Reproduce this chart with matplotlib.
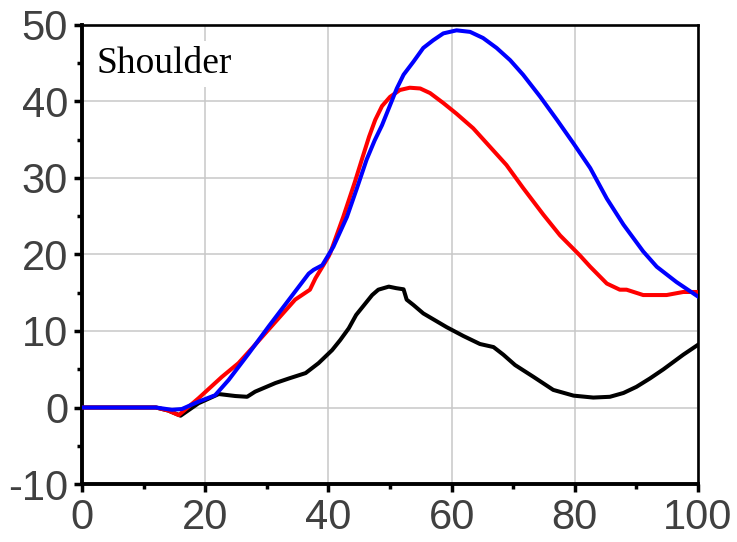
import matplotlib
matplotlib.use("Agg")
import matplotlib.pyplot as plt
from matplotlib.ticker import MultipleLocator

plt.rcParams["axes.unicode_minus"] = False

# ---- data ----
black_x = [0, 4, 8, 12, 14, 16, 18.9, 22.2, 24.9, 26.8, 28.1, 31.4, 33.6, 36.3, 38.4, 40.6,
           41.9, 43.3, 44.5, 46.0, 47.1, 48.1, 49.8, 51.0, 52.2, 52.7, 53.8, 55.4, 57.3,
           59.2, 61.9, 64.6, 66.8, 68.4, 70.3, 73.3, 76.5, 79.8, 83.0, 85.7, 87.9, 90.0,
           92.2, 94.4, 97.6, 100]
black_y = [0, 0, 0, 0, -0.4, -1.07, 0.55, 1.76, 1.5, 1.4, 2.07, 3.2, 3.8, 4.5, 5.8, 7.5,
           8.8, 10.35, 12.1, 13.6, 14.7, 15.4, 15.8, 15.6, 15.45, 14.1, 13.4, 12.3, 11.4,
           10.5, 9.35, 8.3, 7.9, 6.9, 5.55, 4.0, 2.3, 1.55, 1.3, 1.4, 1.9, 2.7,
           3.8, 5.0, 6.9, 8.2]

red_x = [0, 4, 8, 12, 14, 15.7, 18.9, 22.7, 25.4, 28.1, 31.4, 34.6, 37.0, 37.9, 40.0, 40.3,
         42.4, 44.3, 45.5, 46.6, 47.6, 48.7, 50.0, 51.6, 53.2, 54.9, 56.5, 58.65, 60.8,
         63.5, 66.2, 68.9, 71.6, 74.9, 77.6, 80.8, 82.5, 85.2, 87.3, 88.4, 91.1, 94.9,
         97.6, 100]
red_y = [0, 0, 0, 0, -0.4, -1.0, 1.2, 4.0, 5.8, 8.2, 11.2, 14.1, 15.4, 16.9, 19.7, 20.2,
         24.9, 29.5, 32.6, 35.4, 37.6, 39.4, 40.6, 41.5, 41.8, 41.7, 41.1, 39.8, 38.4,
         36.5, 34.1, 31.7, 28.7, 25.2, 22.5, 19.9, 18.4, 16.2, 15.4, 15.4, 14.7, 14.7,
         15.1, 15.1]

blue_x = [0, 4, 8, 12, 14.6, 16.2, 18.9, 21.6, 23.8, 27.1, 30.3, 33.6, 36.8, 37.6, 39.0,
          40.8, 43.0, 44.6, 46.2, 47.5, 48.7, 50.0, 51.1, 52.2, 53.8, 55.4, 57.0, 58.65,
          60.8, 63.0, 65.1, 67.3, 69.5, 71.6, 74.4, 77.1, 79.8, 82.5, 85.2, 87.9, 91.1,
          93.3, 96.5, 100]
blue_y = [0, 0, 0, 0, -0.3, -0.2, 0.76, 1.6, 3.6, 7.1, 10.6, 14.1, 17.5, 18.0, 18.6,
          21.0, 24.9, 28.6, 32.4, 34.9, 36.9, 39.5, 41.7, 43.5, 45.2, 47.0, 48.0, 48.9,
          49.3, 49.1, 48.3, 47.0, 45.4, 43.5, 40.6, 37.6, 34.5, 31.3, 27.3, 23.9, 20.4,
          18.4, 16.4, 14.5]

x_ticks = [0, 20, 40, 60, 80, 100]
y_ticks = [-10, 0, 10, 20, 30, 40, 50]
panel_label = "Shoulder"

fig = plt.figure(figsize=(7.37, 5.42), dpi=100)
ax = fig.add_axes([0.1113, 0.107, 0.8358, 0.8469])

ax.plot(black_x, black_y, color="black", lw=2.9, zorder=3, solid_joinstyle="round")
ax.plot(red_x, red_y, color="#ff0000", lw=2.9, zorder=4, solid_joinstyle="round")
ax.plot(blue_x, blue_y, color="#0000ff", lw=2.9, zorder=5, solid_joinstyle="round")

ax.set_xlim(0, 100)
ax.set_ylim(-10, 50)
ax.set_xticks(x_ticks)
ax.set_yticks(y_ticks)
ax.xaxis.set_minor_locator(MultipleLocator(10))
ax.yaxis.set_minor_locator(MultipleLocator(5))

ax.grid(True, which="major", color="#c8c8c8", lw=1.1, zorder=0)
ax.set_axisbelow(True)

for s in ["left", "bottom"]:
    ax.spines[s].set_linewidth(2.8)
for s in ["top", "right"]:
    ax.spines[s].set_linewidth(1.9)

ax.tick_params(which="major", direction="out", length=6, width=2.5,
               labelsize=30, labelcolor="#404040", pad=4,
               top=False, right=False)
ax.tick_params(which="minor", direction="out", length=3.5, width=2.5,
               top=False, right=False)
for lab in ax.get_xticklabels() + ax.get_yticklabels():
    lab.set_fontfamily("Liberation Sans")

ax.text(0.023, 0.895, panel_label, transform=ax.transAxes, fontsize=27,
        family="Liberation Serif", color="black", va="baseline", ha="left",
        zorder=6, bbox=dict(facecolor="white", edgecolor="none", pad=4))

fig.savefig("out.png", dpi=100)
